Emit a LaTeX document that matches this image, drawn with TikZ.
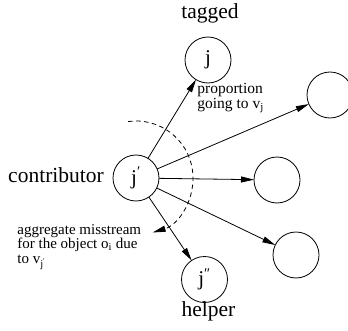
\documentclass[tikz,border=0pt]{standalone}
\usepackage{fontspec}
\setmainfont{Liberation Serif}
\usetikzlibrary{arrows.meta}

\begin{document}
\begin{tikzpicture}[
  x = 1pt, y = 1pt,
  line width = 0.8pt,
  vertex/.style = {
    shape = circle,
    draw = black,
    minimum size = 46pt,
    inner sep = 0pt,
    outer sep = 0pt,
    font = \fontsize{21}{24}\selectfont,
  },
  role/.style = {
    anchor = base,
    inner sep = 0pt,
    font = \fontsize{21.5}{24}\selectfont,
  },
  remark/.style = {
    anchor = north west,
    align = left,
    inner sep = 0pt,
  }
]
  \useasboundingbox (0, 0) rectangle (348, 330);

  \node[vertex] (v1) at (136, 152) {j\textsuperscript{′}};
  \node[vertex] (v2) at (208, 270) {j};
  \node[vertex] (v3) at (330, 235) {};
  \node[vertex] (v4) at (277, 150) {};
  \node[vertex] (v5) at (296, 75) {};
  \node[vertex] (v6) at (204.5, 50.5) {j\textsuperscript{″}};

  \node[role] (tagged) at (210, 311) {tagged};
  \node[role] (helper) at (208.5, 14) {helper};
  \node[role] (contrib) at (56, 148) {contributor};

  \node[remark, font = \fontsize{15.5}{11}\selectfont] (share) at (197, 247)
    {proportion\\going to v\textsubscript{j}};
  \node[remark, font = \fontsize{15}{14.5}\selectfont] (loss) at (17, 106)
    {aggregate misstream\\for the object o\textsubscript{i} due\\to v\textsubscript{j\textsuperscript{′}}};

  \begin{scope}[
    every path/.style = {-{Triangle[length = 13pt, width = 6pt]}}
  ]
    \draw (v1) -- (v2);
    \draw (v1) -- (v3);
    \draw (v1) -- (v4);
    \draw (v1) -- (v5);
    \draw (v1) -- (v6);

    \draw[dash pattern = on 4.5pt off 3.5pt]
      ([shift = {(98:57)}]v1.center) arc[start angle = 98, end angle = -73, radius = 57];
  \end{scope}
\end{tikzpicture}
\end{document}
